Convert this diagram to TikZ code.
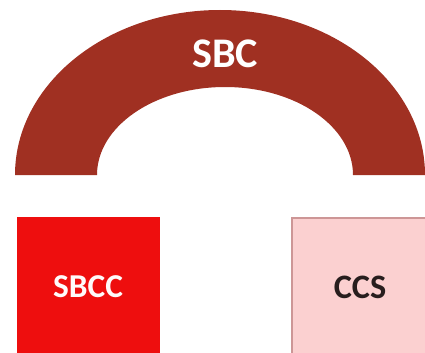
\documentclass[tikz,border=0pt]{standalone}
\usepackage{fontspec}
\setmainfont{Carlito}
\definecolor{archred}{RGB}{160,48,34}
\definecolor{boxred}{RGB}{238,14,14}
\definecolor{boxpink}{RGB}{251,208,208}
\definecolor{pinkline}{RGB}{205,150,150}
\definecolor{textdark}{RGB}{40,30,30}
\tikzset{
    label text/.style={font=\bfseries, inner sep=0pt},
}
\begin{document}
\begin{tikzpicture}[x=0.02cm, y=0.02cm]
        \useasboundingbox (0,0) rectangle (425,352);
        \clip (0,0) rectangle (425,352);

        % arch
        \fill [archred] (15,177) arc [start angle=180, end angle=0, x radius=205, y radius=165]
            -- (353,177) arc [start angle=0, end angle=180, x radius=128, y radius=88] -- cycle;
        \node [label text, white, font=\bfseries\fontsize{24}{24}\selectfont] (sbc) at (225,298) {SBC};

        % boxes
        \fill [boxred] (17,-10) rectangle (160,135);
        \draw [fill=boxpink, draw=pinkline, line width=0.8pt] (292,-10) rectangle (440,134);

        \node [label text, white!92!pink, font=\bfseries\fontsize{19}{19}\selectfont] (sbcc) at (88,65) {SBCC};
        \node [label text, textdark, font=\bfseries\fontsize{19.5}{19.5}\selectfont] (ccs) at (360,65) {CCS};
    \end{tikzpicture}
\end{document}
